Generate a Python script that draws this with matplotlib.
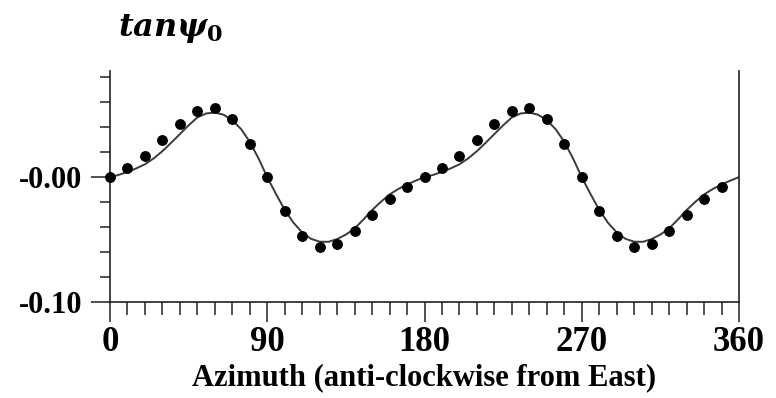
import matplotlib
matplotlib.use('Agg')
import matplotlib.pyplot as plt
from matplotlib.ticker import MultipleLocator, FixedLocator, FixedFormatter

plt.rcParams['mathtext.fontset'] = 'custom'
plt.rcParams['mathtext.it'] = 'DejaVu Serif:italic:bold'
plt.rcParams['mathtext.rm'] = 'DejaVu Serif:bold'
plt.rcParams['mathtext.bf'] = 'DejaVu Serif:bold'

# observed points (every 10 deg)
obs_az = [0, 10, 20, 30, 40, 50, 60, 70, 80, 90, 100, 110, 120, 130, 140, 150, 160, 170,
          180, 190, 200, 210, 220, 230, 240, 250, 260, 270, 280, 290, 300, 310, 320, 330, 340, 350]
obs_val = [0.000, 0.0077, 0.0173, 0.0295, 0.0428, 0.0530, 0.0554, 0.0467, 0.0268, 0.000,
           -0.0272, -0.0470, -0.0557, -0.0535, -0.0434, -0.0300, -0.0178, -0.0078,
           0.000, 0.0077, 0.0173, 0.0295, 0.0428, 0.0530, 0.0554, 0.0467, 0.0268, 0.000,
           -0.0272, -0.0470, -0.0557, -0.0535, -0.0434, -0.0300, -0.0178, -0.0078]

# model curve (read every 5 deg)
fit_az = list(range(0, 365, 5))
fit_val = [0.000, 0.0018, 0.0042, 0.0070, 0.0103, 0.0150, 0.0208, 0.0275, 0.0345, 0.0415,
           0.0478, 0.0510, 0.0517, 0.0500, 0.0456, 0.0385, 0.0283, 0.0150, 0.000,
           -0.0135, -0.0262, -0.0365, -0.0443, -0.0494, -0.0517, -0.0518, -0.0496, -0.0460,
           -0.0411, -0.0340, -0.0264, -0.0198, -0.0139, -0.0095, -0.0059, -0.0028,
           0.000, 0.0018, 0.0042, 0.0070, 0.0103, 0.0150, 0.0208, 0.0275, 0.0345, 0.0415,
           0.0478, 0.0510, 0.0517, 0.0500, 0.0456, 0.0385, 0.0283, 0.0150, 0.000,
           -0.0135, -0.0262, -0.0365, -0.0443, -0.0494, -0.0517, -0.0518, -0.0496, -0.0460,
           -0.0411, -0.0340, -0.0264, -0.0198, -0.0139, -0.0095, -0.0059, -0.0028, 0.000]

x_ticks = [0, 90, 180, 270, 360]
y_ticks = [-0.10, 0.0]
y_tick_labels = ['-0.10', '-0.00']

fig = plt.figure(figsize=(7.76, 3.98), dpi=100)
ax = fig.add_axes([110/776, 1 - 302/398, 629/776, 231/398])

ax.plot(fit_az, fit_val, color='#3a3a3a', lw=1.4, zorder=2)
ax.plot(obs_az, obs_val, 'o', color='black', ms=6.8, zorder=3, clip_on=False)

ax.set_xlim(0, 360)
ax.set_ylim(-0.10, 0.085)

ax.spines['top'].set_visible(False)
for s in ['left', 'right', 'bottom']:
    ax.spines[s].set_linewidth(1.2)
    ax.spines[s].set_color('#222222')

ax.xaxis.set_major_locator(FixedLocator(x_ticks))
ax.xaxis.set_minor_locator(MultipleLocator(10))
ax.yaxis.set_major_locator(FixedLocator(y_ticks))
ax.yaxis.set_major_formatter(FixedFormatter(y_tick_labels))
ax.yaxis.set_minor_locator(FixedLocator([-0.08, -0.06, -0.04, -0.02, 0.02, 0.04, 0.06, 0.08]))

ax.tick_params(axis='x', which='major', direction='out', length=14.5, width=1.1, pad=3,
               color='#222222')
ax.tick_params(axis='x', which='minor', direction='out', length=9.5, width=1.1, color='#222222')
ax.tick_params(axis='y', which='major', direction='out', length=14, width=1.1, pad=6,
               color='#222222')
ax.tick_params(axis='y', which='minor', direction='out', length=7.5, width=1.1, color='#222222')

for lab in ax.get_xticklabels():
    lab.set_fontfamily('Liberation Serif')
    lab.set_fontweight('bold')
    lab.set_fontsize(25)
for lab in ax.get_yticklabels():
    lab.set_fontfamily('Liberation Serif')
    lab.set_fontweight('bold')
    lab.set_fontsize(22)

ax.set_xlabel('Azimuth (anti-clockwise from East)', fontfamily='Liberation Serif',
              fontweight='bold', fontsize=22, labelpad=3)

fig.text(118/776, 1 - 36/398, r'$tan\psi_0$', fontsize=23, ha='left', va='baseline')

plt.savefig('out.png', dpi=100)
